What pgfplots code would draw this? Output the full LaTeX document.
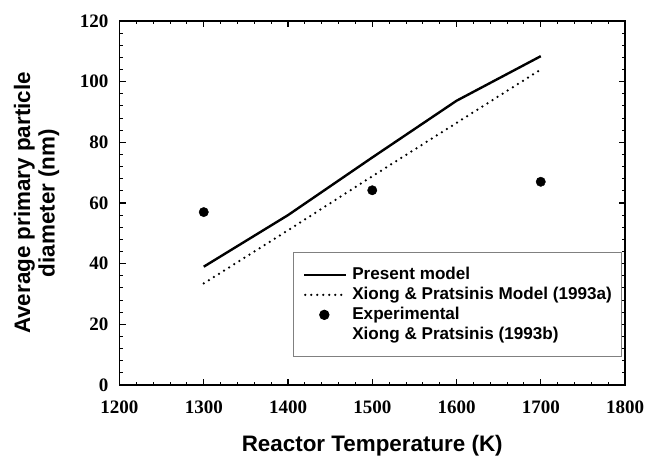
\documentclass[border=0pt]{standalone}
\usepackage{fontspec}
\setmainfont{Liberation Serif}
\newfontfamily\arialf{Liberation Sans}
\usepackage{pgfplots}
\pgfplotsset{compat=1.18}
\pgfplotsset{
  lineleg/.style={legend image code/.code={\draw[##1] (0pt,0pt) -- (42pt,0pt);}},
  dotleg/.style={legend image code/.code={\draw[##1] (1pt,0pt) -- (41pt,0pt);}},
  markleg/.style={legend image code/.code={\draw[mark repeat=2,mark phase=2,##1] plot coordinates {(0pt,0pt) (20pt,0pt) (42pt,0pt)};}},
}
\begin{document}
\begin{tikzpicture}
\begin{axis}[
  scale only axis, width=505.5pt, height=364pt,
  xmin=1200, xmax=1800, ymin=0, ymax=120,
  xtick={1200,1300,...,1800}, ytick={0,20,...,120},
  minor x tick num=4, minor y tick num=4,
  tick align=inside, tick pos=both,
  major tick length=6.5pt, minor tick length=3.5pt,
  every major tick/.append style={black, line width=1.1pt},
  every minor tick/.append style={black, line width=0.9pt},
  axis line style={line width=1.2pt},
  ticklabel style={font=\fontsize{19}{19}\selectfont\bfseries},
  /pgf/number format/assume math mode=true,
  /pgf/number format/1000 sep={},
  xticklabel style={anchor=north, inner sep=0pt, yshift=-15.7pt},
  yticklabel style={anchor=east, inner sep=0pt, xshift=-11pt},
  xlabel={Reactor Temperature (K)},
  ylabel={Average primary particle\\diameter (nm)},
  xlabel style={font=\arialf\bfseries\fontsize{22.4}{24.5}\selectfont, at={(axis description cs:0.5,0)}, anchor=base, yshift=-66pt},
  ylabel style={font=\arialf\bfseries\fontsize{22.4}{24.5}\selectfont, align=center, at={(axis description cs:-0.1642,0.5)}, anchor=center},
  legend cell align=left,
  legend style={at={(axis description cs:0.3426,0.3646)}, anchor=north west,
    draw=black!50, line width=0.9pt,
    font=\arialf\bfseries\fontsize{17.1}{20}\selectfont,
    inner xsep=10pt, inner ysep=14.1pt, row sep=4pt, column sep=4.8pt,
    nodes={inner sep=0pt, text height=12.5pt, text depth=3.5pt}},
]
\addplot[black, line width=2.4pt, line join=round, lineleg]
  coordinates {(1300,39) (1400,56) (1500,75) (1600,93.7) (1700,108.4)};
\addlegendentry{Present model}
\addplot[black, line width=2.5pt, line cap=round, dash pattern=on 0pt off 6pt, dotleg]
  coordinates {(1300,33.5) (1400,51) (1500,68.8) (1600,86.4) (1700,104)};
\addlegendentry{Xiong \& Pratsinis Model (1993a)}
\addplot[black, only marks, mark=*, mark size=4.7pt, mark options={solid, fill=black}, markleg]
  coordinates {(1300,57) (1500,64.2) (1700,67)};
\addlegendentry{Experimental}
\addlegendimage{empty legend}
\addlegendentry{Xiong \& Pratsinis (1993b)}
\end{axis}
\pgfresetboundingbox
\useasboundingbox (-119.5pt,-70pt) rectangle (527.5pt,385pt);
\end{tikzpicture}
\end{document}
